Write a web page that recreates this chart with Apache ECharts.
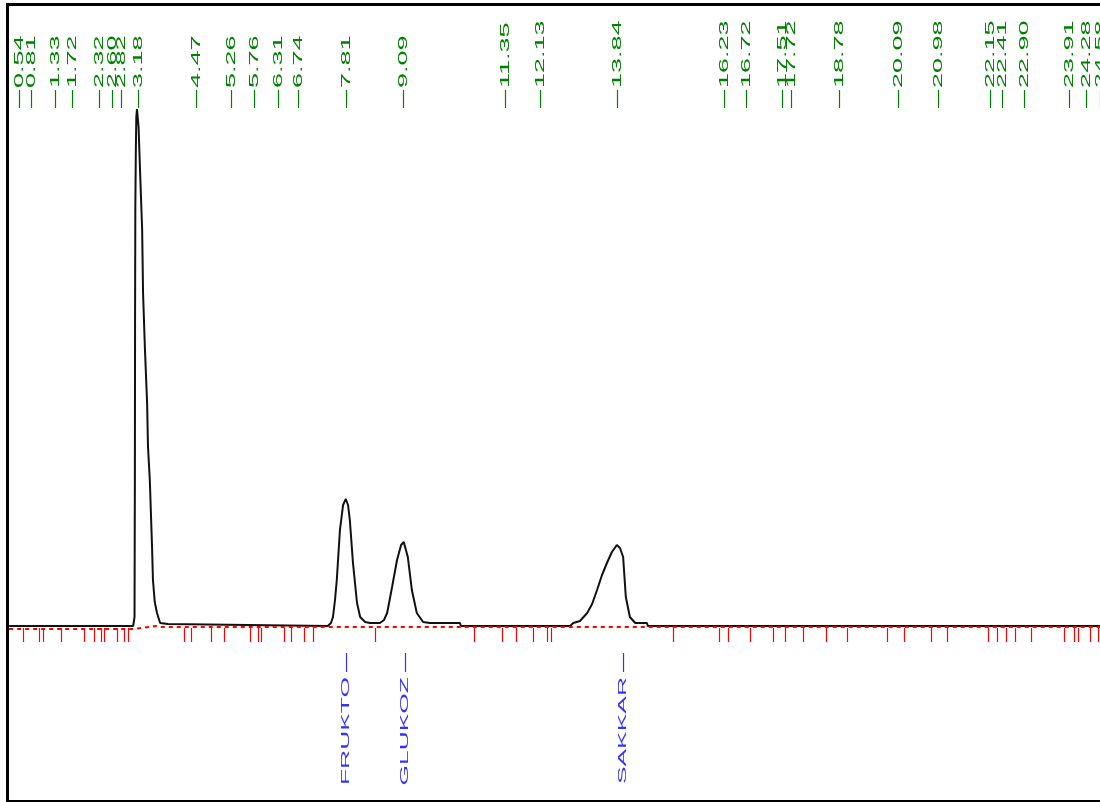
<!DOCTYPE html>
<html><head><meta charset="utf-8">
<script src="https://cdn.jsdelivr.net/npm/echarts@6/dist/echarts.min.js"></script>
<style>html,body{margin:0;padding:0;background:#fff}#c{width:1100px;height:802px}</style>
</head><body><div id="c"></div>
<script>
// Retention-time annotations along the top (minutes)
const retentionTimes = [0.54,0.81,1.33,1.72,2.32,2.60,2.82,3.18,4.47,5.26,5.76,6.31,6.74,7.81,9.09,11.35,12.13,13.84,16.23,16.72,17.51,17.72,18.78,20.09,20.98,22.15,22.41,22.90,23.91,24.28,24.58];
const retentionLabels = retentionTimes.map(t => t.toFixed(2));

// Named peaks (blue labels)
const peakNames = ['FRUKTO','GLUKOZ','SAKKAR'];
const peakNameTimes = [7.80, 9.11, 13.95];

// Integration event marks (red ticks), minutes
const eventTimes = [0.63,0.99,1.07,1.47,1.99,2.21,2.36,2.43,2.72,2.88,2.97,4.21,4.37,4.81,5.10,5.68,5.86,5.92,6.44,6.59,6.88,7.08,8.46,10.66,11.29,11.60,11.98,12.29,12.38,15.09,16.11,16.31,16.80,17.31,17.58,17.98,18.49,18.96,19.85,20.23,20.83,21.19,22.10,22.30,22.50,22.70,23.05,23.79,24.01,24.10,24.37,24.54];

// Detector trace
const traceTime = [0.32,3.08,3.11,3.118,3.122,3.128,3.14,3.15,3.165,3.18,3.20,3.23,3.28,3.30,3.34,3.39,3.41,3.45,3.50,3.52,3.56,3.61,3.68,3.70,3.85,3.87,
  7.41,7.48,7.525,7.57,7.61,7.68,7.75,7.81,7.86,7.90,7.97,8.06,8.13,8.24,8.35,8.57,8.66,8.73,8.84,8.95,9.04,9.10,9.19,9.28,9.39,9.53,9.68,10.35,10.37,
  12.80,12.87,13.02,13.18,13.29,13.40,13.51,13.62,13.73,13.84,13.91,13.98,14.04,14.13,14.25,14.51,14.53,24.59];
const traceSignal = [1,1,10,150,300,420,480,510,518,520,500,460,397,334,280,224,180,147,80,47,25,14,4,3,3,1,
  1,4,10,27,47,97,122,128,122,107,64,24,10,5,4,4,7,14,40,67,82,85,70,37,14,5,4,4,1,
  1,4,6,14,23,37,52,64,75,82,79,70,30,10,4,4,1,1];

// Baseline (red dotted)
const baselineTime = [0.32,3.08,3.60,3.66,24.59];
const baselineSignal = [-2,-2,1,0,0];

const zip = (a,b) => a.map((v,i) => [v,b[i]]);

const chart = echarts.init(document.getElementById('c'), null, {renderer:'canvas'});
const FONT = '"Liberation Sans", Arial, sans-serif';

chart.setOption({
  animation:false,
  backgroundColor:'#fff',
  grid:{left:9,right:0,top:6,bottom:2},
  xAxis:{type:'value',min:0.3175,max:24.589,show:false},
  yAxis:{type:'value',min:-173,max:621,show:false},
  graphic:[
    {type:'rect',shape:{x:6,y:3,width:1094,height:3},style:{fill:'#000'},z:100},
    {type:'rect',shape:{x:6,y:3,width:3,height:799},style:{fill:'#000'},z:100},
    {type:'rect',shape:{x:6,y:800,width:1094,height:2},style:{fill:'#000'},z:100}
  ],
  series:[
    {
      type:'line',data:zip(traceTime,traceSignal),symbol:'none',smooth:false,
      lineStyle:{color:'#111',width:2},z:3,silent:true
    },
    {
      type:'line',data:zip(baselineTime,baselineSignal),symbol:'none',
      lineStyle:{color:'#ff0000',width:2.2,type:[4,4]},z:4,silent:true
    },
    {
      type:'custom',silent:true,z:2,
      data:eventTimes.map(t=>[t]),
      renderItem:(params,api)=>{
        const p = api.coord([api.value(0),0]);
        const x = Math.round(p[0]) + 0.5;
        return {type:'line',shape:{x1:x,y1:p[1]+1,x2:x,y2:p[1]+15},style:{stroke:'#ff0000',lineWidth:1.2}};
      }
    },
    {
      type:'custom',silent:true,z:5,
      data:retentionTimes.map(t=>[t]),
      renderItem:(params,api)=>{
        const cs = params.coordSys;
        const x = Math.round(api.coord([api.value(0),0])[0]) + 0.5;
        return {type:'group',children:[
          {type:'line',shape:{x1:x,y1:cs.y+84,x2:x,y2:cs.y+102},style:{stroke:'#008000',lineWidth:1.2}},
          {type:'text',x:x,y:cs.y+82,rotation:Math.PI/2,scaleX:2.25,
           style:{text:retentionLabels[params.dataIndex],fill:'#008000',font:'12px '+FONT,align:'left',verticalAlign:'middle'}}
        ]};
      }
    },
    {
      type:'custom',silent:true,z:5,
      data:peakNameTimes.map(t=>[t]),
      renderItem:(params,api)=>{
        const p = api.coord([api.value(0),0]);
        const x = Math.round(p[0]) + 0.5;
        return {type:'group',children:[
          {type:'line',shape:{x1:x+1,y1:p[1]+26,x2:x+1,y2:p[1]+45},style:{stroke:'#3333ff',lineWidth:1.2}},
          {type:'text',x:x,y:p[1]+50,rotation:Math.PI/2,scaleX:2.4,
           style:{text:peakNames[params.dataIndex],fill:'#3333ff',font:'11px '+FONT,align:'right',verticalAlign:'middle'}}
        ]};
      }
    }
  ]
});
</script></body></html>
